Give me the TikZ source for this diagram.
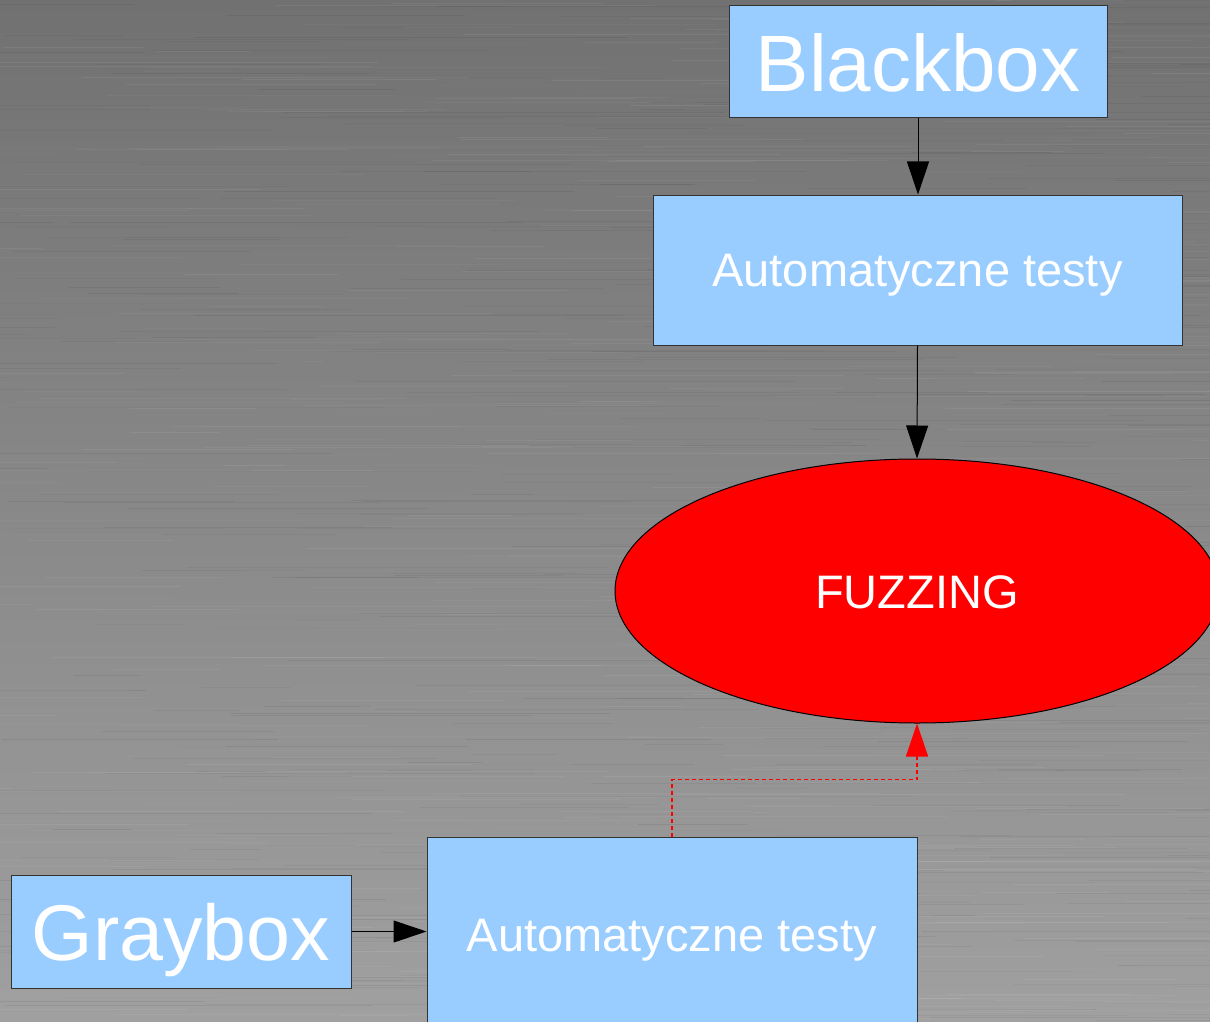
\documentclass[tikz,border=0pt]{standalone}
\usepackage{fontspec}
\setmainfont{Liberation Sans}
\usetikzlibrary{arrows.meta,shapes.geometric}

\begin{document}
\begin{tikzpicture}[x=1pt,y=-1pt,
  box/.style={draw=black!80, line width=1pt, fill=boxblue, text=white, inner sep=0pt, text depth=0pt},
  flow/.style={line width=1pt, draw=black, -{Triangle[length=33pt,width=22pt]}},
  dashflow/.style={line width=1.5pt, draw=red, dash pattern=on 4pt off 3pt,
    -{Triangle[length=33pt,width=22pt,fill=red,sharp]}},
]
\definecolor{boxblue}{HTML}{99CCFF}
\definecolor{steeltop}{HTML}{717171}
\definecolor{steelbot}{HTML}{A0A0A0}

% brushed steel backdrop
\useasboundingbox (0,0) rectangle (1210,1022);
\clip (0,0) rectangle (1210,1022);
\shade[top color=steeltop, bottom color=steelbot] (0,0) rectangle (1210,1022);
\pgfmathsetseed{4711}
\foreach \i in {1,...,900}{
  \pgfmathsetmacro{\yy}{rnd*1022}
  \pgfmathsetmacro{\xa}{rnd*1300-100}
  \pgfmathsetmacro{\ll}{60+rnd*400}
  \pgfmathsetmacro{\op}{0.02+rnd*0.05}
  \pgfmathparse{rnd>0.5 ? 1 : 0}
  \ifnum\pgfmathresult=1
    \draw[white, opacity=\op, line width=0.8pt] (\xa,\yy) -- ++(\ll,0);
  \else
    \draw[black, opacity=\op, line width=0.8pt] (\xa,\yy) -- ++(\ll,0);
  \fi
}

% nodes
\node[box, minimum width=378pt, minimum height=112pt, font=\fontsize{80}{90}\selectfont]
  (black) at (918,62) {\raisebox{-2pt}{Blackbox}};
\node[box, minimum width=529pt, minimum height=150pt, font=\fontsize{47}{56}\selectfont]
  (auto1) at (917.5,270) {Automatyczne testy};
\node[ellipse, draw=black, line width=1pt, fill=red, text=white, inner sep=0pt, text depth=0pt,
  minimum width=604pt, minimum height=264pt, font=\fontsize{47}{56}\selectfont]
  (fuzz) at (917,591) {\raisebox{-2pt}{FUZZING}};
\node[box, minimum width=340pt, minimum height=113pt, font=\fontsize{79}{90}\selectfont]
  (gray) at (181,931.5) {Graybox};
\node[box, minimum width=490pt, minimum height=196pt, font=\fontsize{47}{56}\selectfont]
  (auto2) at (672,935) {Automatyczne testy};

% connectors
\draw[flow] (black.south) -- (black.south |- auto1.north);
\draw[flow] (auto1.south) -- (fuzz.north);
\draw[flow] (gray.east) -- (gray.east -| auto2.west);
\draw[dashflow] (auto2.north) -- ++(0,-57) -| (fuzz.south);
\end{tikzpicture}
\end{document}
